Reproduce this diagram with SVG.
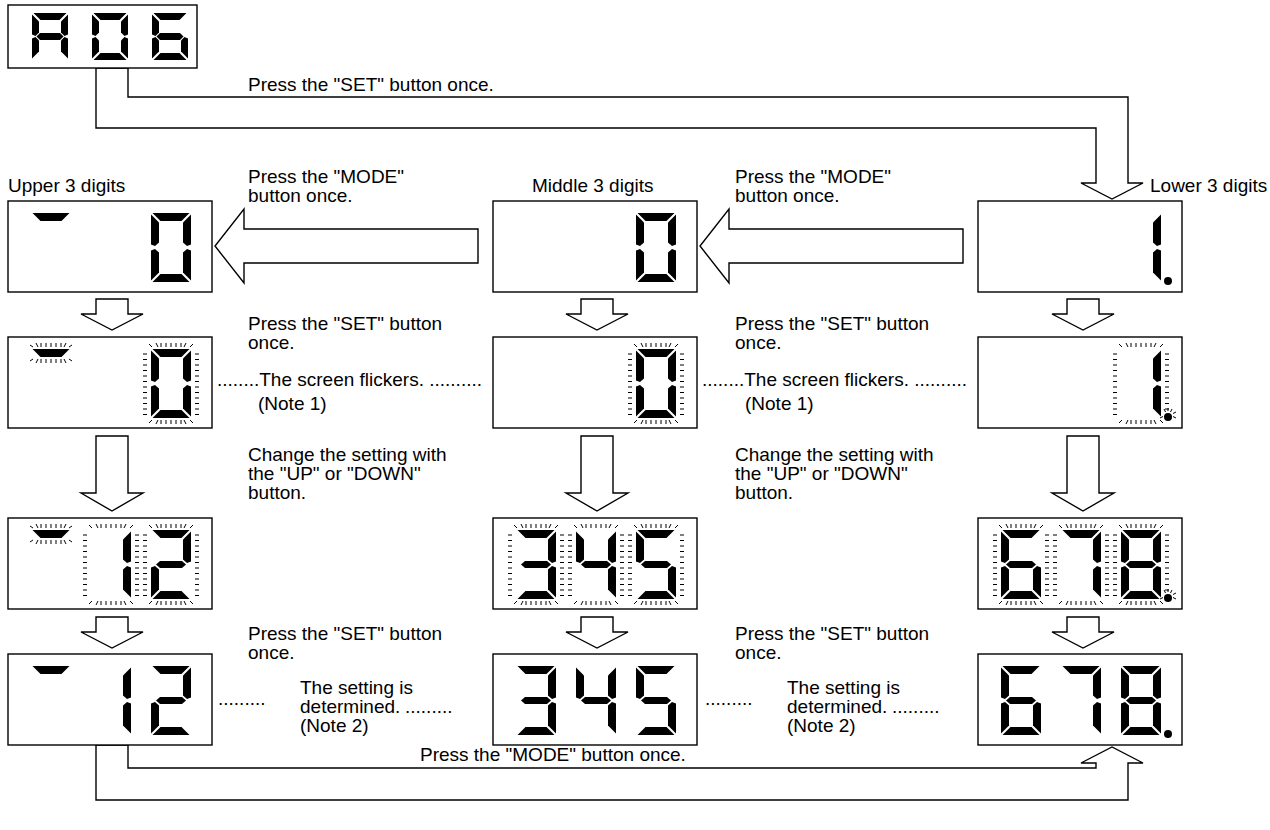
<svg xmlns="http://www.w3.org/2000/svg" xmlns:xlink="http://www.w3.org/1999/xlink" width="1270" height="830" viewBox="0 0 1270 830">
<style>
.box{fill:#fff;stroke:#000;stroke-width:1.4}
.arr{fill:#fff;stroke:#000;stroke-width:1.4;stroke-linejoin:miter}
.seg{fill:#000}
.tk{stroke:#000;stroke-width:1;fill:none}
text{font-family:"Liberation Sans",Arial,sans-serif;font-size:19px;fill:#000}
</style>
<defs>
<polygon id="sa" class="seg" points="1.5,0 38.5,0 30.5,8 9.5,8"/>
<polygon id="sb" class="seg" points="40,1.5 40,31.5 36,33 32,29.5 32,9.5"/>
<polygon id="sc" class="seg" points="40,37.5 40,67.5 32,59.5 32,39.5 36,36"/>
<polygon id="sd" class="seg" points="9.5,61 30.5,61 38.5,69 1.5,69"/>
<polygon id="se" class="seg" points="0,37.5 4,36 8,39.5 8,59.5 0,67.5"/>
<polygon id="sf" class="seg" points="0,1.5 8,9.5 8,29.5 4,33 0,31.5"/>
<polygon id="sg" class="seg" points="5,34.5 9,31 31,31 35,34.5 31,38 9,38"/>
<polygon id="ta" class="seg" points="1.5,0 34.5,0 27.5,7 8.5,7"/>
<polygon id="tb" class="seg" points="36,1.5 36,21.5 32.5,23 29,19.5 29,8.5"/>
<polygon id="tc" class="seg" points="36,25.5 36,45.5 29,38.5 29,27.5 32.5,24"/>
<polygon id="td" class="seg" points="8.5,40 27.5,40 34.5,47 1.5,47"/>
<polygon id="te" class="seg" points="0,25.5 3.5,24 7,27.5 7,38.5 0,45.5"/>
<polygon id="tf" class="seg" points="0,1.5 7,8.5 7,19.5 3.5,23 0,21.5"/>
<polygon id="tg" class="seg" points="4.5,23.5 8,20 28,20 31.5,23.5 28,27 8,27"/>
<g id="d0"><use href="#sa"/><use href="#sb"/><use href="#sc"/><use href="#sd"/><use href="#se"/><use href="#sf"/></g>
<g id="d1"><use href="#sb"/><use href="#sc"/></g>
<g id="d2"><use href="#sa"/><use href="#sb"/><use href="#sg"/><use href="#se"/><use href="#sd"/></g>
<g id="d3"><use href="#sa"/><use href="#sb"/><use href="#sg"/><use href="#sc"/><use href="#sd"/></g>
<g id="d4"><use href="#sf"/><use href="#sg"/><use href="#sb"/><use href="#sc"/></g>
<g id="d5"><use href="#sa"/><use href="#sf"/><use href="#sg"/><use href="#sc"/><use href="#sd"/></g>
<g id="d6"><use href="#sa"/><use href="#sf"/><use href="#sg"/><use href="#se"/><use href="#sd"/><use href="#sc"/></g>
<g id="d7"><use href="#sa"/><use href="#sb"/><use href="#sc"/></g>
<g id="d8"><use href="#sa"/><use href="#sb"/><use href="#sc"/><use href="#sd"/><use href="#se"/><use href="#sf"/><use href="#sg"/></g>
<g id="tA"><use href="#ta"/><use href="#tb"/><use href="#tc"/><use href="#te"/><use href="#tf"/><use href="#tg"/></g>
<g id="t0"><use href="#ta"/><use href="#tb"/><use href="#tc"/><use href="#td"/><use href="#te"/><use href="#tf"/></g>
<g id="t6"><use href="#ta"/><use href="#tf"/><use href="#tg"/><use href="#te"/><use href="#td"/><use href="#tc"/></g>
<path id="fl" class="tk" d="M-8,5h4M-8,10.5h4M-8,16h4M-8,21.5h4M-8,27h4M-8,32.5h4M-8,38h4M-8,43.5h4M-8,49h4M-8,54.5h4M-8,60h4M-8,65.5h4
M44,5h4M44,10.5h4M44,16h4M44,21.5h4M44,27h4M44,32.5h4M44,38h4M44,43.5h4M44,49h4M44,54.5h4M44,60h4M44,65.5h4
M10,-6v4M15,-6v4M20,-6v4M25,-6v4M30,-6v4M5,-6l2,4M35,-6l-2,4M-2,-5l3,3M42,-5l-3,3
M10,71v4M15,71v4M20,71v4M25,71v4M30,71v4M5,75l2,-4M35,75l-2,-4M-2,74l3,-3M42,74l-3,-3"/>
<path id="fla" class="tk" d="M10,-6v4M15,-6v4M20,-6v4M25,-6v4M30,-6v4M5,-6l2,4M35,-6l-2,4M-1,-4l3,2M41,-4l-3,2
M10,10v4M15,10v4M20,10v4M25,10v4M30,10v4M5,14l2,-4M35,14l-2,-4M-1,12l3,-2M41,12l-3,-2"/>
<path id="fld" class="tk" d="M-4,-8l1.5,3M0,-9v3M4,-8l-1.5,3M8,-5l-3,1.5M8,1l-3,-1.5M-8,1l3,-1.5"/>
</defs>

<g id="connectors">
<polygon class="arr" points="96,68 96,128 1096,128 1096,183 1081,183 1112,199 1143,183 1128,183 1128,97 128,97 128,68"/>
<polygon class="arr" points="96,745 96,800 1128,800 1128,763 1143,763 1112,747 1081,763 1096,763 1096,768 128,768 128,745"/>
<polygon class="arr" points="478,229 244,229 244,209 215,246 244,283 244,263 478,263"/>
<polygon class="arr" points="963,229 729,229 729,209 700,246 729,283 729,263 963,263"/>
<polygon class="arr" points="96,299 128,299 128,314 143,314 112,330 81,314 96,314"/>
<polygon class="arr" points="581,299 613,299 613,314 628,314 597,330 566,314 581,314"/>
<polygon class="arr" points="1067,299 1099,299 1099,314 1114,314 1083,330 1052,314 1067,314"/>
<polygon class="arr" points="96,436 128,436 128,493 143,493 112,511 81,493 96,493"/>
<polygon class="arr" points="581,436 613,436 613,493 628,493 597,511 566,493 581,493"/>
<polygon class="arr" points="1067,436 1099,436 1099,493 1114,493 1083,511 1052,493 1067,493"/>
<polygon class="arr" points="96,617 128,617 128,632 143,632 112,648 81,632 96,632"/>
<polygon class="arr" points="581,617 613,617 613,632 628,632 597,648 566,632 581,632"/>
<polygon class="arr" points="1067,617 1099,617 1099,632 1114,632 1083,648 1052,632 1067,632"/>
</g>

<g id="n-a06">
<rect class="box" x="8" y="5" width="189" height="63"/>
<use href="#tA" x="32" y="13"/>
<use href="#t0" x="92" y="13"/>
<use href="#t6" x="152" y="13"/>
</g>

<g id="n-upper1">
<rect class="box" x="8" y="201" width="204" height="91"/>
<use href="#sa" x="31" y="213"/>
<use href="#d0" x="151" y="213"/>
</g>
<g id="n-middle1">
<rect class="box" x="493" y="201" width="204" height="91"/>
<use href="#d0" x="636" y="213"/>
</g>
<g id="n-lower1">
<rect class="box" x="978" y="201" width="204" height="91"/>
<use href="#d1" x="1121" y="213"/>
<circle cx="1168" cy="281" r="4"/>
</g>

<g id="n-upper2">
<rect class="box" x="8" y="337" width="204" height="91"/>
<use href="#sa" x="31" y="349"/><use href="#fla" x="31" y="349"/>
<use href="#d0" x="151" y="349"/><use href="#fl" x="151" y="349"/>
</g>
<g id="n-middle2">
<rect class="box" x="493" y="337" width="204" height="91"/>
<use href="#d0" x="636" y="349"/><use href="#fl" x="636" y="349"/>
</g>
<g id="n-lower2">
<rect class="box" x="978" y="337" width="204" height="91"/>
<use href="#d1" x="1121" y="349"/><use href="#fl" x="1121" y="349"/>
<circle cx="1168" cy="417" r="4"/><use href="#fld" x="1168" y="417"/>
</g>

<g id="n-upper3">
<rect class="box" x="8" y="518" width="204" height="91"/>
<use href="#sa" x="31" y="530"/><use href="#fla" x="31" y="530"/>
<use href="#d1" x="91" y="530"/><use href="#fl" x="91" y="530"/>
<use href="#d2" x="151" y="530"/><use href="#fl" x="151" y="530"/>
</g>
<g id="n-middle3">
<rect class="box" x="493" y="518" width="204" height="91"/>
<use href="#d3" x="516" y="530"/><use href="#fl" x="516" y="530"/>
<use href="#d4" x="576" y="530"/><use href="#fl" x="576" y="530"/>
<use href="#d5" x="636" y="530"/><use href="#fl" x="636" y="530"/>
</g>
<g id="n-lower3">
<rect class="box" x="978" y="518" width="204" height="91"/>
<use href="#d6" x="1001" y="530"/><use href="#fl" x="1001" y="530"/>
<use href="#d7" x="1061" y="530"/><use href="#fl" x="1061" y="530"/>
<use href="#d8" x="1121" y="530"/><use href="#fl" x="1121" y="530"/>
<circle cx="1168" cy="598" r="4"/><use href="#fld" x="1168" y="598"/>
</g>

<g id="n-upper4">
<rect class="box" x="8" y="654" width="204" height="91"/>
<use href="#sa" x="31" y="666"/>
<use href="#d1" x="91" y="666"/>
<use href="#d2" x="151" y="666"/>
</g>
<g id="n-middle4">
<rect class="box" x="493" y="654" width="204" height="91"/>
<use href="#d3" x="516" y="666"/>
<use href="#d4" x="576" y="666"/>
<use href="#d5" x="636" y="666"/>
</g>
<g id="n-lower4">
<rect class="box" x="978" y="654" width="204" height="91"/>
<use href="#d6" x="1001" y="666"/>
<use href="#d7" x="1061" y="666"/>
<use href="#d8" x="1121" y="666"/>
<circle cx="1168" cy="734" r="4"/>
</g>

<g id="labels">
<text x="248" y="91">Press the "SET" button once.</text>
<text x="8" y="192">Upper 3 digits</text>
<text x="532" y="192">Middle 3 digits</text>
<text x="1150" y="192">Lower 3 digits</text>
<text x="248" y="183">Press the "MODE"</text>
<text x="248" y="202">button once.</text>
<text x="735" y="183">Press the "MODE"</text>
<text x="735" y="202">button once.</text>

<text x="248" y="330">Press the "SET" button</text>
<text x="248" y="349">once.</text>
<text x="735" y="330">Press the "SET" button</text>
<text x="735" y="349">once.</text>
<text x="217" y="386">........The screen flickers. ..........</text>
<text x="702" y="386">........The screen flickers. ..........</text>
<text x="258" y="410">(Note 1)</text>
<text x="745" y="410">(Note 1)</text>

<text x="248" y="461">Change the setting with</text>
<text x="248" y="480">the "UP" or "DOWN"</text>
<text x="248" y="499">button.</text>
<text x="735" y="461">Change the setting with</text>
<text x="735" y="480">the "UP" or "DOWN"</text>
<text x="735" y="499">button.</text>

<text x="248" y="640">Press the "SET" button</text>
<text x="248" y="659">once.</text>
<text x="735" y="640">Press the "SET" button</text>
<text x="735" y="659">once.</text>
<text x="300" y="694">The setting is</text>
<text x="300" y="713">determined.</text>
<text x="300" y="732">(Note 2)</text>
<text x="218" y="705">.........</text>
<text x="405" y="713">.........</text>
<text x="787" y="694">The setting is</text>
<text x="787" y="713">determined.</text>
<text x="787" y="732">(Note 2)</text>
<text x="705" y="705">.........</text>
<text x="892" y="713">.........</text>

<text x="420" y="761">Press the "MODE" button once.</text>
</g>
</svg>
